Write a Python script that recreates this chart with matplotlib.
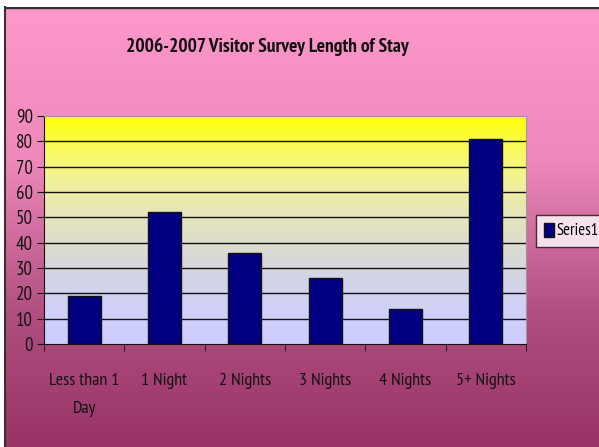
import numpy as np
import matplotlib
matplotlib.use("Agg")
import matplotlib.pyplot as plt
from matplotlib.colors import LinearSegmentedColormap
from matplotlib import font_manager

categories = ["Less than 1\nDay", "1 Night", "2 Nights", "3 Nights", "4 Nights", "5+ Nights"]
values = [19, 52, 36, 26, 14, 81]
series_name = "Series1"
title = "2006-2007 Visitor Survey Length of Stay"
yticks = list(range(0, 100, 10))

names = {f.name for f in font_manager.fontManager.ttflist}
fam = ["PT Sans Narrow", "Roboto Condensed", "Liberation Sans", "DejaVu Sans"]
fam = [f for f in fam if f in names] or ["DejaVu Sans"]
plt.rcParams["font.family"] = fam

W, H = 599, 447
fig = plt.figure(figsize=(W / 100, H / 100), dpi=100)
fig.patch.set_facecolor("white")

# background gradient (figure)
bg = fig.add_axes([5 / W, 0, 1 - 5 / W, 1 - 7 / H])
bg_cmap = LinearSegmentedColormap.from_list(
    "bg", [(0.0, "#FF99CC"), (0.35, "#EE88BB"), (0.7, "#B04E80"), (1.0, "#993366")])
grad = np.linspace(0, 1, 256).reshape(-1, 1)
bg.imshow(grad, aspect="auto", cmap=bg_cmap, extent=[0, 1, 0, 1], origin="upper")
bg.set_xlim(0, 1)
bg.set_ylim(0, 1)
bg.set_xticks([])
bg.set_yticks([])
for s in ["top", "right", "bottom"]:
    bg.spines[s].set_visible(False)
bg.spines["left"].set_color("#333333")
bg.spines["left"].set_linewidth(1.5)
bg.axhline(1, color="#333333", lw=2.5)

# plot area
x0, x1 = 44, 526
ytop, ybot = 116, 344
ax = fig.add_axes([x0 / W, 1 - ybot / H, (x1 - x0) / W, (ybot - ytop) / H])
ax.set_zorder(2)
pa_cmap = LinearSegmentedColormap.from_list(
    "pa", [(0.0, "#CCCCFF"), (0.15, "#D0D0F8"), (0.3, "#D4D4E4"), (0.45, "#DEDECC"),
           (0.6, "#E8E8B4"), (0.72, "#F2F296"), (0.85, "#FAFA60"), (1.0, "#FFFF00")])
grad2 = np.linspace(0, 1, 256).reshape(-1, 1)
ax.imshow(grad2, aspect="auto", cmap=pa_cmap, extent=[-0.5, 5.5, 0, 90],
          origin="lower", zorder=0)
ax.set_xlim(-0.5, len(categories) - 0.5)
ax.set_ylim(0, 90)

for v in yticks[1:-1]:
    ax.axhline(v, color="#111111", lw=1.0, zorder=1)

x = np.arange(len(categories))
ax.bar(x, values, width=0.41, color="#000080", edgecolor="#111111", linewidth=1.0,
       zorder=3, label=series_name)

ax.set_yticks(yticks)
ax.set_yticklabels([str(v) for v in yticks], fontsize=13.5)
ax.set_xticks(x)
ax.set_xticklabels(categories, fontsize=13, linespacing=2.0, va="top")
ax.tick_params(axis="x", length=0, pad=21)
ax.set_xticks(np.arange(-0.5, len(categories) + 0.5, 1), minor=True)
ax.tick_params(axis="x", which="minor", length=5, direction="out", color="#111111")
ax.tick_params(axis="y", length=5, direction="out", color="#111111", pad=3)
for lbl in ax.get_xticklabels() + ax.get_yticklabels():
    lbl.set_color("#111111")
ax.spines["left"].set_color("#111111")
ax.spines["bottom"].set_color("#111111")
ax.spines["top"].set_color("#999999")
ax.spines["right"].set_color("#999999")

fig.text(267 / W, 1 - 47 / H, title, ha="center", va="center",
         fontsize=14, fontweight="bold", color="#111111")

# legend
leg = fig.legend(handles=ax.containers[0][:1], labels=[series_name],
                 loc="center left", bbox_to_anchor=(536 / W, 1 - 231 / H),
                 fontsize=12, frameon=True, fancybox=False, handlelength=0.6,
                 handleheight=0.9, handletextpad=0.2, borderpad=0.45,
                 borderaxespad=0)
leg.get_frame().set_edgecolor("#111111")
leg.get_frame().set_facecolor("white")
leg.get_frame().set_linewidth(1.0)
leg.set_zorder(5)

fig.savefig("out.png", dpi=100, facecolor=fig.get_facecolor())
